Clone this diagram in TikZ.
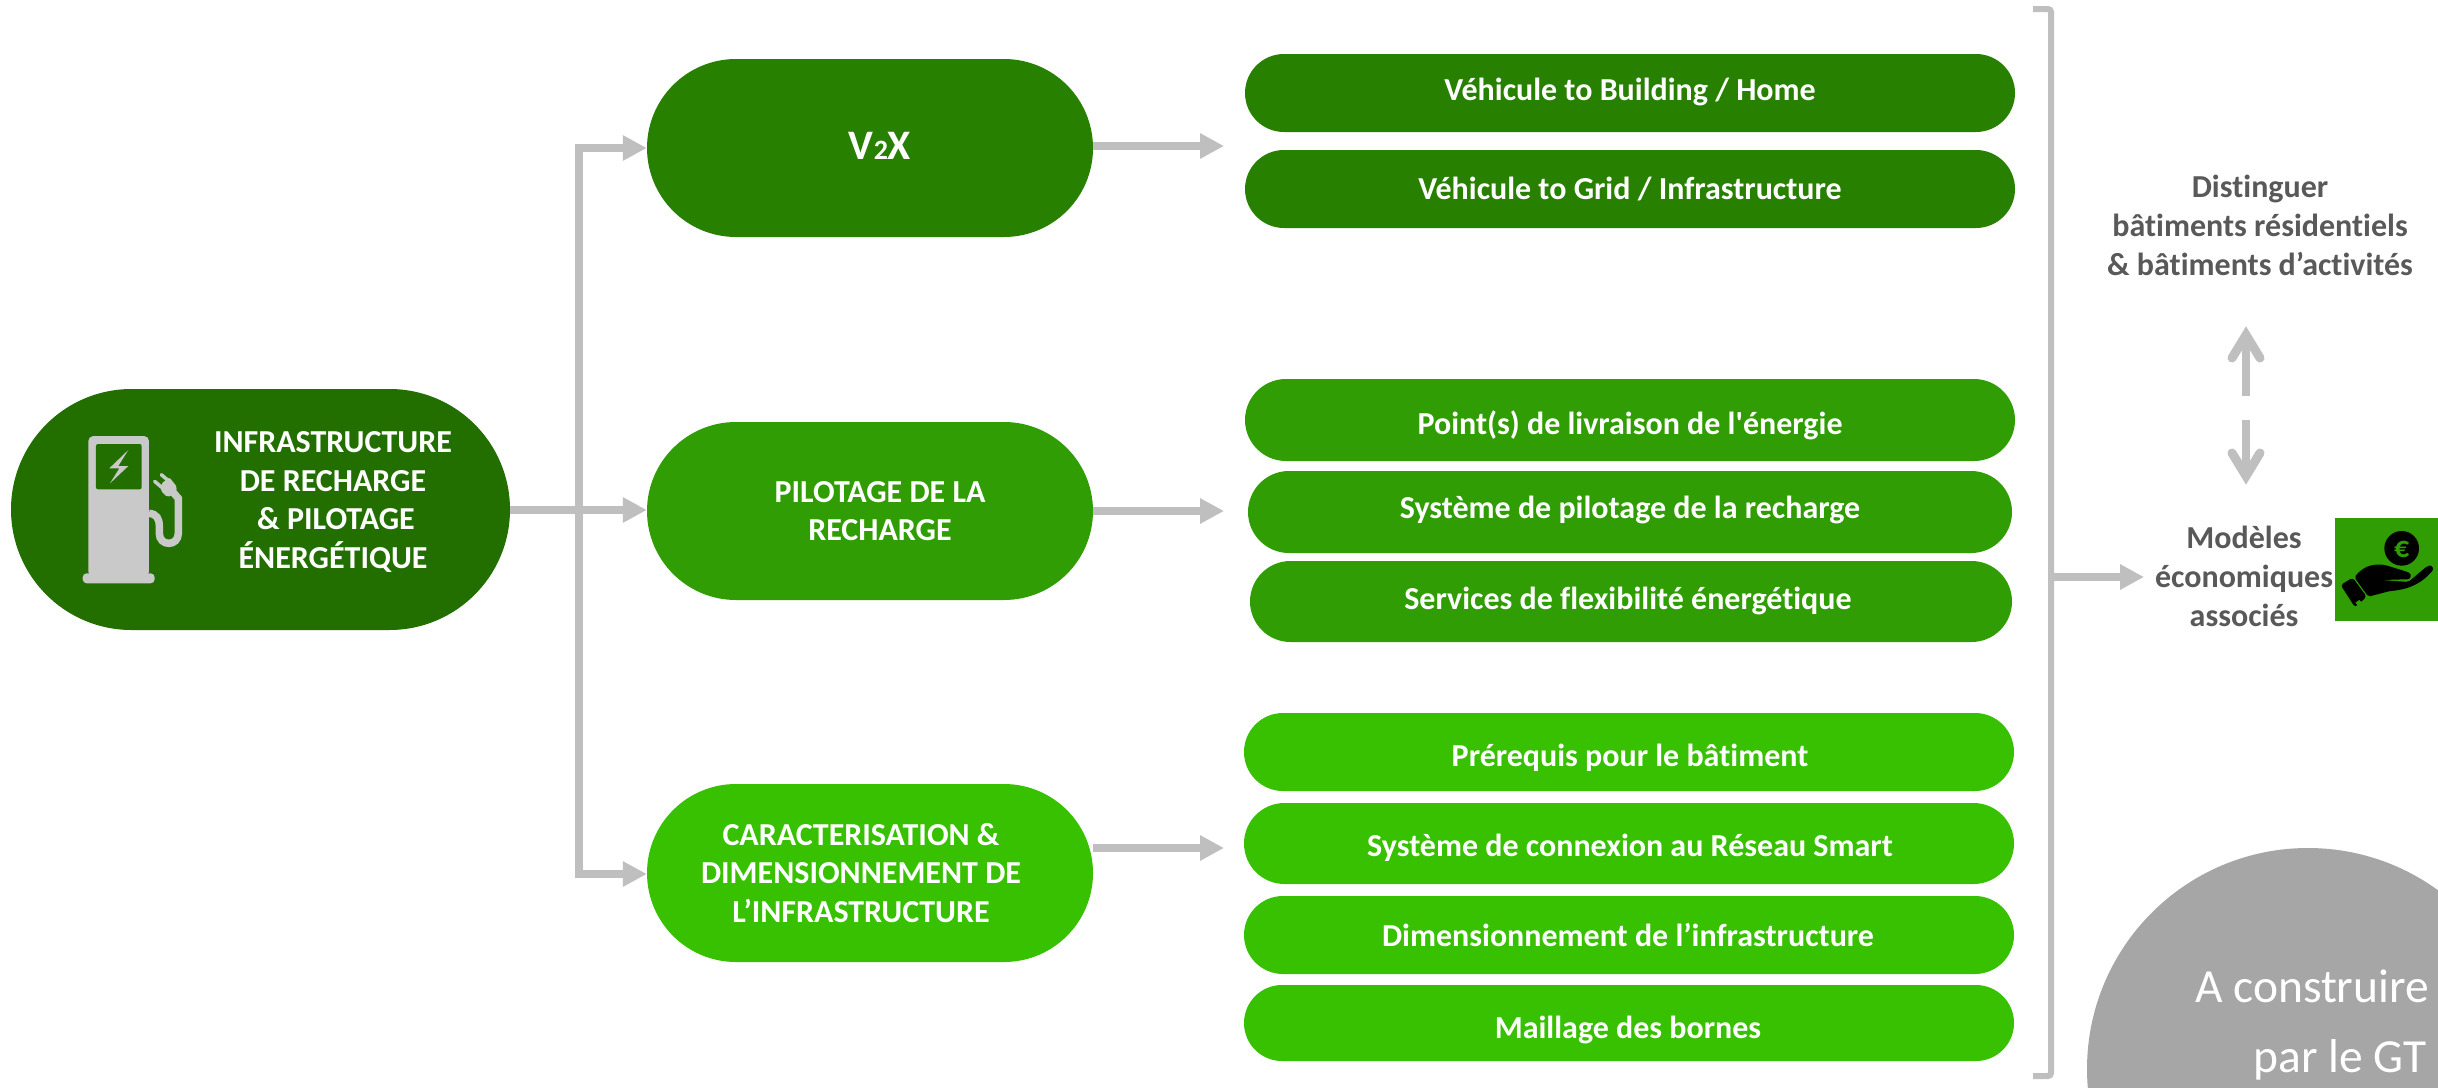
\documentclass[tikz,border=0pt]{standalone}
\usepackage{fontspec}
\newfontfamily\cf{Carlito}[Ligatures=NoCommon]
\usetikzlibrary{arrows.meta}
\definecolor{gA}{HTML}{226F00}
\definecolor{gV}{HTML}{288000}
\definecolor{gB}{HTML}{2F9D03}
\definecolor{gC}{HTML}{37C100}
\definecolor{lin}{HTML}{BFBFBF}
\definecolor{tgrey}{HTML}{595959}
\definecolor{iconc}{HTML}{C9C9C9}
\definecolor{circ}{HTML}{A6A6A6}
\tikzset{
  x=1pt,y=-1pt,
  txt/.style={font=\cf\fontsize{32}{38.5}\selectfont\bfseries,text=white,align=center,inner sep=0pt},
  itemtxt/.style={font=\cf\fontsize{32}{38}\selectfont\bfseries,text=white,inner sep=0pt,anchor=base},
  grey/.style={font=\cf\fontsize{32}{39}\selectfont\bfseries,text=tgrey,align=center,inner sep=0pt},
  gttxt/.style={font=\cf\fontsize{47.5}{50}\selectfont,text=white,inner sep=0pt,anchor=base},
  flow/.style={line width=8pt,draw=lin,-{Triangle[length=24pt,width=24pt]}},
  bus/.style={line width=8pt,draw=lin},
  dbl/.style={line width=8pt,draw=lin},
  chev/.style={line width=9pt,draw=lin,line cap=round,miter limit=10},
}
\newcommand{\pillshape}[6]{% name x1 y1 x2 y2 colour
  \path[fill=#6] ({#2+(#5-#3)/2},#3) -- ({#4-(#5-#3)/2},#3) arc[start angle=90,end angle=-90,x radius={(#5-#3)/2},y radius={-(#5-#3)/2}] -- ({#2+(#5-#3)/2},#5) arc[start angle=270,end angle=90,x radius={(#5-#3)/2},y radius={-(#5-#3)/2}] -- cycle;
  \node[minimum width={(#4-#2)*1pt},minimum height={(#5-#3)*1pt},inner sep=0pt] (#1) at ({(#2+#4)/2},{(#3+#5)/2}) {};
}
\begin{document}
\begin{tikzpicture}
\useasboundingbox (0,0) rectangle (2438,1087);
\fill[white] (0,0) rectangle (2438,1087);
% grey circle
\begin{scope}
\clip (0,0) rectangle (2438,1087);
\fill[circ] (2308,1069) circle[radius=221];
\end{scope}
% pills
\pillshape{main}{11}{389}{510}{630}{gA}
\pillshape{vtx}{647}{59}{1093}{237}{gV}
\pillshape{pil}{647}{422}{1093}{600}{gB}
\pillshape{car}{647}{784}{1093}{962}{gC}
\pillshape{a}{1245}{54}{2015}{132}{gV}
\pillshape{b}{1245}{150}{2015}{228}{gV}
\pillshape{c}{1245}{379}{2015}{461}{gB}
\pillshape{d}{1248}{471}{2012}{553}{gB}
\pillshape{e}{1250}{561}{2012}{642}{gB}
\pillshape{f}{1244}{713}{2014}{791}{gC}
\pillshape{g}{1244}{803}{2014}{884}{gC}
\pillshape{h}{1244}{896}{2014}{974}{gC}
\pillshape{i}{1244}{985}{2014}{1061}{gC}
% labels
\node[txt] (tmain) at (333,502) {INFRASTRUCTURE\\DE RECHARGE\\\hspace*{6pt}\& PILOTAGE\\ÉNERGÉTIQUE};
\node[txt,font=\cf\fontsize{42}{48}\selectfont\bfseries] (tv) at (880,146) {V{\fontsize{28}{30}\selectfont 2}X};
\node[txt] (tp) at (880,511) {PILOTAGE DE LA\\RECHARGE};
\node[txt] (tc) at (861,873) {CARACTERISATION \&\\DIMENSIONNEMENT DE\\L’INFRASTRUCTURE};
\node[itemtxt] (ta) at (1630,100) {Véhicule to Building / Home};
\node[itemtxt] (tb) at (1630,199) {Véhicule to Grid / Infrastructure};
\node[itemtxt] (tcc) at (1630,434) {Point(s) de livraison de l'énergie};
\node[itemtxt] (td) at (1630,518) {Système de pilotage de la recharge};
\node[itemtxt] (te) at (1628,609) {Services de flexibilité énergétique};
\node[itemtxt] (tf) at (1630,766) {Prérequis pour le bâtiment};
\node[itemtxt] (tg) at (1630,856) {Système de connexion au Réseau Smart};
\node[itemtxt] (th) at (1628,946) {Dimensionnement de l’infrastructure};
\node[itemtxt] (ti) at (1628,1038) {Maillage des bornes};
\node[grey] (dist) at (2260,225) {Distinguer\\bâtiments résidentiels\\\& bâtiments d’activités};
\node[grey] (mod) at (2244,576) {Modèles\\économiques\\associés};
\node[gttxt] (gta) at (2312,1002) {A construire};
\node[gttxt] (gtb) at (2340,1072) {par le GT};
% connectors
\coordinate (busT) at (579,148);
\coordinate (busB) at (579,874);
\coordinate (busM) at (579,510);
\draw[bus] (main.east |- busM) -- (busM);
\draw[flow] (busM) -- (pil.west |- busM);
\draw[flow] (busM) |- (vtx.west |- busT);
\draw[flow] (busM) |- (car.west |- busB);
\coordinate (r1) at (1224,146);
\coordinate (r2) at (1224,511);
\coordinate (r3) at (1224,848);
\draw[flow] (vtx.east |- r1) -- (r1);
\draw[flow] (pil.east |- r2) -- (r2);
\draw[flow] (car.east |- r3) -- (r3);
\coordinate (brT) at (2033,9);
\coordinate (brB) at (2033,1076);
\coordinate (brX) at (2051,9);
\coordinate (brY) at (2051,1076);
\draw[line width=6pt,draw=lin,rounded corners=3pt] (brT) -- (brX) -- (brY) -- (brB);
\coordinate (brM) at (2051,577);
\coordinate (tipM) at (2144,577);
\draw[flow] (brM) -- (tipM);
\coordinate (upA) at (2246,396);
\coordinate (upB) at (2246,335);
\coordinate (dnA) at (2246,420);
\coordinate (dnB) at (2246,476);
\draw[dbl] (upA) -- (upB);
\draw[dbl] (dnA) -- (dnB);
\draw[chev] (2232,358) -- (upB) -- (2260,358);
\draw[chev] (2232,453) -- (dnB) -- (2260,453);
% charger icon (drawn in zoomed coordinates)
\begin{scope}[shift={(0,370)},x=0.33333pt,y=-0.33333pt]
\fill[iconc,rounded corners=5pt] (265,198) -- (447,198) -- (447,620) -- (265,620) -- cycle;
\fill[iconc,rounded corners=4pt] (248,610) rectangle (464,640);
\fill[gA,rounded corners=2pt] (288,222) rectangle (425,358);
\fill[iconc] (385,240) -- (328,295) -- (358,295) -- (330,340) -- (385,288) -- (355,288) -- cycle;
\draw[iconc,line width=7.5pt] (447,430) .. controls (470,432) and (478,445) .. (478,470) -- (478,490) .. controls (478,530) and (535,530) .. (535,490) -- (535,385) -- (515,362);
\fill[iconc,rounded corners=2pt] (483,342) -- (508,322) -- (532,352) -- (525,370) -- (503,382) -- (482,362) -- cycle;
\draw[iconc,line width=3.5pt,line cap=round] (464,334) -- (485,352) (484,314) -- (505,332);
\end{scope}
% money icon (drawn in zoomed coordinates)
\node[fill=gB,minimum width=103pt,minimum height=103pt,inner sep=0pt] (mon) at (2386.5,569.5) {};
\begin{scope}[shift={(2020,480)},x=0.33333pt,y=-0.33333pt]
\fill[black] (1145,205) circle[radius=52];
\fill[black,rounded corners=2pt] (1003,292) .. controls (1025,265) and (1050,250) .. (1095,255) -- (1160,275) .. controls (1178,283) and (1172,298) .. (1155,298) -- (1085,300) -- (1165,306) -- (1222,258) .. controls (1238,255) and (1242,268) .. (1232,278) .. controls (1195,318) and (1150,330) .. (1110,333) -- (1045,350) -- cycle;
\fill[black,rounded corners=3pt] (962,315) -- (998,293) -- (1040,350) -- (1005,382) -- cycle;
\fill[gB] (1006,368) -- (1018,360) -- (1026,368) -- (1014,377) -- cycle;
\node[text=gB,font=\cf\fontsize{30}{30}\selectfont\bfseries,inner sep=0pt] (euro) at (1145,208) {€};
\end{scope}
\end{tikzpicture}
\end{document}
